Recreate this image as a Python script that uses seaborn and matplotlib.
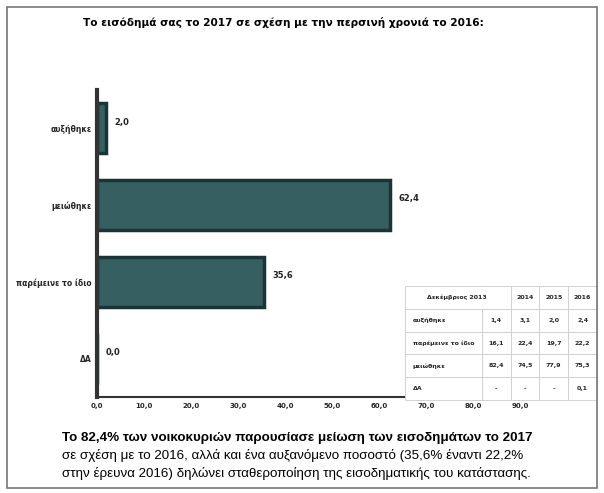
import matplotlib
matplotlib.use("Agg")
import matplotlib.pyplot as plt
import seaborn as sns
import pandas as pd
from matplotlib.patches import Rectangle

sns.set_theme(style="white")
plt.rcParams['font.family'] = ['DejaVu Sans']

# chart data
categories = ["αυξήθηκε", "μειώθηκε", "παρέμεινε το ίδιο", "ΔΑ"]
values = [2.0, 62.4, 35.6, 0.0]

# table data
table_cols = ["Δεκέμβριος 2013", "2014", "2015", "2016"]
table_rows = ["αυξήθηκε", "παρέμεινε το ίδιο", "μειώθηκε", "ΔΑ"]
table_vals = [["1,4", "3,1", "2,0", "2,4"],
              ["16,1", "22,4", "19,7", "22,2"],
              ["82,4", "74,5", "77,9", "75,3"],
              ["-", "-", "-", "0,1"]]

title = "Το εισόδημά σας το 2017 σε σχέση με την περσινή χρονιά το 2016:"
caption_bold = "Το 82,4% των νοικοκυριών παρουσίασε μείωση των εισοδημάτων το 2017"
caption_lines = ["σε σχέση με το 2016, αλλά και ένα αυξανόμενο ποσοστό (35,6% έναντι 22,2%",
                 "στην έρευνα 2016) δηλώνει σταθεροποίηση της εισοδηματικής του κατάστασης."]

cap_font = ["Liberation Sans", "DejaVu Sans"]

df = pd.DataFrame({"cat": categories, "val": values})

fig = plt.figure(figsize=(6.04, 4.93), dpi=100)
fig.patch.set_facecolor("white")

# outer frame
fig.add_artist(Rectangle((0.012, 0.01), 0.976, 0.975, transform=fig.transFigure,
                         fill=False, edgecolor="#777777", linewidth=1.2))

ax = fig.add_axes([97 / 604, 1 - 397 / 493, (520 - 97) / 604, (397 - 90) / 493])
sns.barplot(data=df, y="cat", x="val", orient="h", color="#2f6669",
            width=0.65, edgecolor="#1b3537", linewidth=2.5, ax=ax)
ax.set_xlim(0, 90)
ax.set_xticks(range(0, 91, 10))
ax.set_xticklabels([f"{t},0" for t in range(0, 91, 10)], fontsize=5, fontweight="bold")
ax.set_yticklabels(categories, fontsize=5.5, fontweight="bold")
ax.set_xlabel("")
ax.set_ylabel("")
for s in ["top", "right"]:
    ax.spines[s].set_visible(False)
ax.spines["left"].set_color("#333333")
ax.spines["left"].set_linewidth(3)
ax.spines["bottom"].set_color("#333333")
ax.spines["bottom"].set_linewidth(1.5)
ax.tick_params(axis="both", length=0, pad=4)

for i, v in enumerate(values):
    ax.text(v + 1.8, i - 0.08, f"{v:.1f}".replace(".", ","), fontsize=6,
            fontweight="bold", va="center", ha="left", color="#222222")

fig.text(0.47, 0.955, title, ha="center", va="center", fontsize=7.6,
         fontweight="bold", color="#000000")

# small data table
tax = fig.add_axes([405 / 604, 1 - 400 / 493, (597 - 405) / 604, (400 - 286) / 493])
tax.axis("off")
cells = [[table_cols[0], "", table_cols[1], table_cols[2], table_cols[3]]]
for r, row in zip(table_rows, table_vals):
    cells.append([r, row[0], row[1], row[2], row[3]])
tbl = tax.table(cellText=cells, loc="center", cellLoc="center",
                colWidths=[0.4, 0.15, 0.15, 0.15, 0.15], bbox=[0, 0, 1, 1])
tbl.auto_set_font_size(False)
for (r, c), cell in tbl.get_celld().items():
    cell.set_edgecolor("#cccccc")
    cell.set_linewidth(0.6)
    cell.set_facecolor("white")
    cell.get_text().set_fontsize(4.5)
    cell.get_text().set_fontweight("bold")
    if c == 0 and r > 0:
        cell.get_text().set_ha("left")
        cell._loc = "left"
    if r == 0 and c in (0, 1):
        cell.visible_edges = "TBL" if c == 0 else "TBR"
tbl[0, 0].get_text().set_text("")
tbl[0, 1].get_text().set_text("")
tax.text(0.27, 1 - 0.5 / 5, table_cols[0], fontsize=4.5, fontweight="bold",
         ha="center", va="center", transform=tax.transAxes)

fig.text(62 / 604, 1 - 438 / 493, caption_bold, fontsize=9.6, fontweight="bold",
         family=cap_font, ha="left", va="center", color="#000000")
for k, line in enumerate(caption_lines):
    fig.text(62 / 604, 1 - (456 + 18 * k) / 493, line, fontsize=9.6, family=cap_font,
             ha="left", va="center", color="#000000")

fig.savefig("out.png", dpi=100)
